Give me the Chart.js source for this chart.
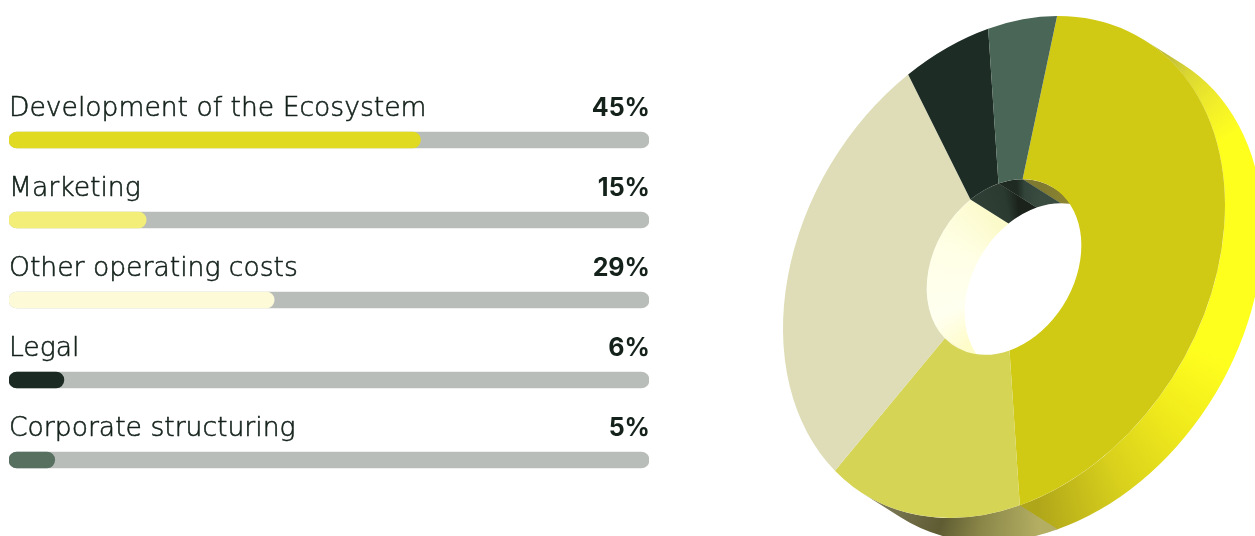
<!DOCTYPE html>
<html>
<head>
<meta charset="utf-8">
<title>Budget allocation</title>
<script src="https://cdn.jsdelivr.net/npm/chart.js@4"></script>
<style>
  html, body { margin: 0; padding: 0; background: #fff; overflow: hidden; }
  #stage { position: relative; width: 1255px; height: 536px; overflow: hidden; }
  canvas { position: absolute; top: 0; }
  #bars { left: 0; }
  #ring { left: 700px; }
</style>
</head>
<body>
<div id="stage">
  <canvas id="bars" width="660" height="536"></canvas>
  <canvas id="ring" width="555" height="536"></canvas>
</div>
<script>
const categories = ['Development of the Ecosystem', 'Marketing', 'Other operating costs', 'Legal', 'Corporate structuring'];
const shares = [45, 15, 29, 6, 5];
const trackMax = 70;
const trackValues = [70, 70, 70, 70, 70];

const barColors = ['#e0da22', '#f2ee78', '#fdfad8', '#1b2a22', '#587060'];
const faceColors = ['#d1ca14', '#d5d455', '#deddb7', '#1d2d25', '#4a6657'];
const trackColor = '#b9bdb9';
const inkColor = '#14221b';

// Outer wall shading per slice, as [fraction along the visible arc, colour].
const outerShades = [
  [[0, '#bdb93e'], [0.07, '#dcd832'], [0.15, '#f2ee2a'], [0.22, '#ffff1e'], [0.6, '#ffff1e'], [0.72, '#f0ea1c'], [0.85, '#d8d01c'], [1, '#b0a61a']],
  [[0, '#b3ae62'], [0.35, '#8a8648'], [0.6, '#5f5c33'], [1, '#7c7958']],
  null, null, null
];
// Inner wall shading per slice, seen through the hole.
const innerShades = [
  [[0, '#7f7a30'], [1, '#8d8632']],
  [[0, '#8a8650'], [1, '#f8f5c8']],
  [[0, '#fefcc8'], [0.3, '#fffff0'], [0.7, '#ffffe6'], [1, '#fbfacb']],
  [[0, '#2e3e34'], [0.6, '#2a3a30'], [1, '#1b221c']],
  [[0, '#1f2a22'], [0.3, '#33453a'], [1, '#3a4c40']]
];

// Captions above each bar and the share at its right end.
const rowText = {
  id: 'rowText',
  afterDatasetsDraw(chart) {
    const { ctx, chartArea } = chart;
    const bars = chart.getDatasetMeta(1).data;
    ctx.save();
    ctx.fillStyle = inkColor;
    ctx.strokeStyle = inkColor;
    ctx.lineWidth = 0.55;
    ctx.textBaseline = 'alphabetic';
    bars.forEach((bar, i) => {
      const base = bar.y - 24;
      ctx.font = '300 26.6px "DejaVu Sans ExtraLight", "DejaVu Sans", sans-serif';
      ctx.textAlign = 'left';
      ctx.fillText(categories[i], chartArea.left, base);
      ctx.strokeText(categories[i], chartArea.left, base);
      ctx.font = '700 25px Inter, "Open Sans", sans-serif';
      ctx.textAlign = 'right';
      ctx.fillText(shares[i] + '%', chartArea.right + 1, base);
    });
    ctx.restore();
  }
};

new Chart(document.getElementById('bars'), {
  type: 'bar',
  data: {
    labels: categories,
    datasets: [
      { label: 'Track', data: trackValues, backgroundColor: trackColor, order: 2 },
      { label: 'Share', data: shares, backgroundColor: barColors, order: 1 }
    ]
  },
  options: {
    indexAxis: 'y',
    responsive: false,
    animation: false,
    events: [],
    layout: { padding: { left: 9, right: 11, top: 100, bottom: 36 } },
    datasets: { bar: { grouped: false, barThickness: 16, borderRadius: 8, borderSkipped: false, borderWidth: 0 } },
    plugins: { legend: { display: false }, tooltip: { enabled: false } },
    scales: {
      x: { display: false, min: 0, max: trackMax },
      y: { display: false }
    }
  },
  plugins: [rowText]
});

// The ring is a flat doughnut sheared into a tilted disc, then given depth.
const tilt = { xx: 221, yx: -61.5, yy: 243.3, cx: 304, cy: 267 };
const depth = { x: 38, y: 24 };

function sweep(ctx, x, y, r, from, to, ox, oy) {
  ctx.beginPath();
  ctx.arc(x, y, r, from, to);
  ctx.arc(x + ox, y + oy, r, to, from, true);
  ctx.closePath();
}

function wall(ctx, arc, r, from, to, lo, hi, ox, oy, shades) {
  for (const turn of [-2 * Math.PI, 0, 2 * Math.PI]) {
    const a = Math.max(from, lo + turn);
    const b = Math.min(to, hi + turn);
    if (b <= a) continue;
    const grad = ctx.createConicGradient(a, arc.x + ox / 2, arc.y + oy / 2);
    const span = (b - a) / (2 * Math.PI);
    shades.forEach(([f, c]) => grad.addColorStop(f * span, c));
    // Hold the end colours around the back so pixels just past either edge stay on shade.
    const split = (span + 1) / 2;
    grad.addColorStop(split, shades[shades.length - 1][1]);
    grad.addColorStop(split, shades[0][1]);
    grad.addColorStop(1, shades[0][1]);
    ctx.fillStyle = grad;
    sweep(ctx, arc.x, arc.y, r, a, b + 0.004, ox, oy);
    ctx.fill();
  }
}

const discDepth = {
  id: 'discDepth',
  beforeDatasetsDraw(chart) {
    const { ctx } = chart;
    const arcs = chart.getDatasetMeta(0).data;
    const R = arcs[0].outerRadius;
    const r = arcs[0].innerRadius;
    const a = tilt.xx / R, b = tilt.yx / R, d = tilt.yy / R;
    ctx.save();
    ctx.translate(tilt.cx, tilt.cy);
    ctx.transform(a, b, 0, d, 0, 0);
    ctx.translate(-arcs[0].x, -arcs[0].y);
    // Depth vector expressed in the doughnut's own flat coordinates.
    const ox = depth.x / a;
    const oy = (depth.y - b * ox) / d;
    const phi = Math.atan2(oy, ox);
    arcs.forEach((arc, i) => {
      if (outerShades[i]) wall(ctx, arc, R, arc.startAngle, arc.endAngle, phi - Math.PI / 2, phi + Math.PI / 2, ox, oy, outerShades[i]);
    });
    arcs.forEach((arc, i) => {
      wall(ctx, arc, r, arc.startAngle, arc.endAngle, phi + Math.PI / 2, phi + 1.5 * Math.PI, ox, oy, innerShades[i]);
    });
  },
  afterDatasetsDraw(chart) {
    chart.ctx.restore();
  }
};

new Chart(document.getElementById('ring'), {
  type: 'doughnut',
  data: {
    labels: categories,
    datasets: [{ data: shares, backgroundColor: faceColors, borderWidth: 0, clip: false }]
  },
  options: {
    responsive: false,
    animation: false,
    events: [],
    cutout: '35%',
    rotation: 13.9,
    plugins: { legend: { display: false }, tooltip: { enabled: false } }
  },
  plugins: [discDepth]
});
</script>
</body>
</html>
